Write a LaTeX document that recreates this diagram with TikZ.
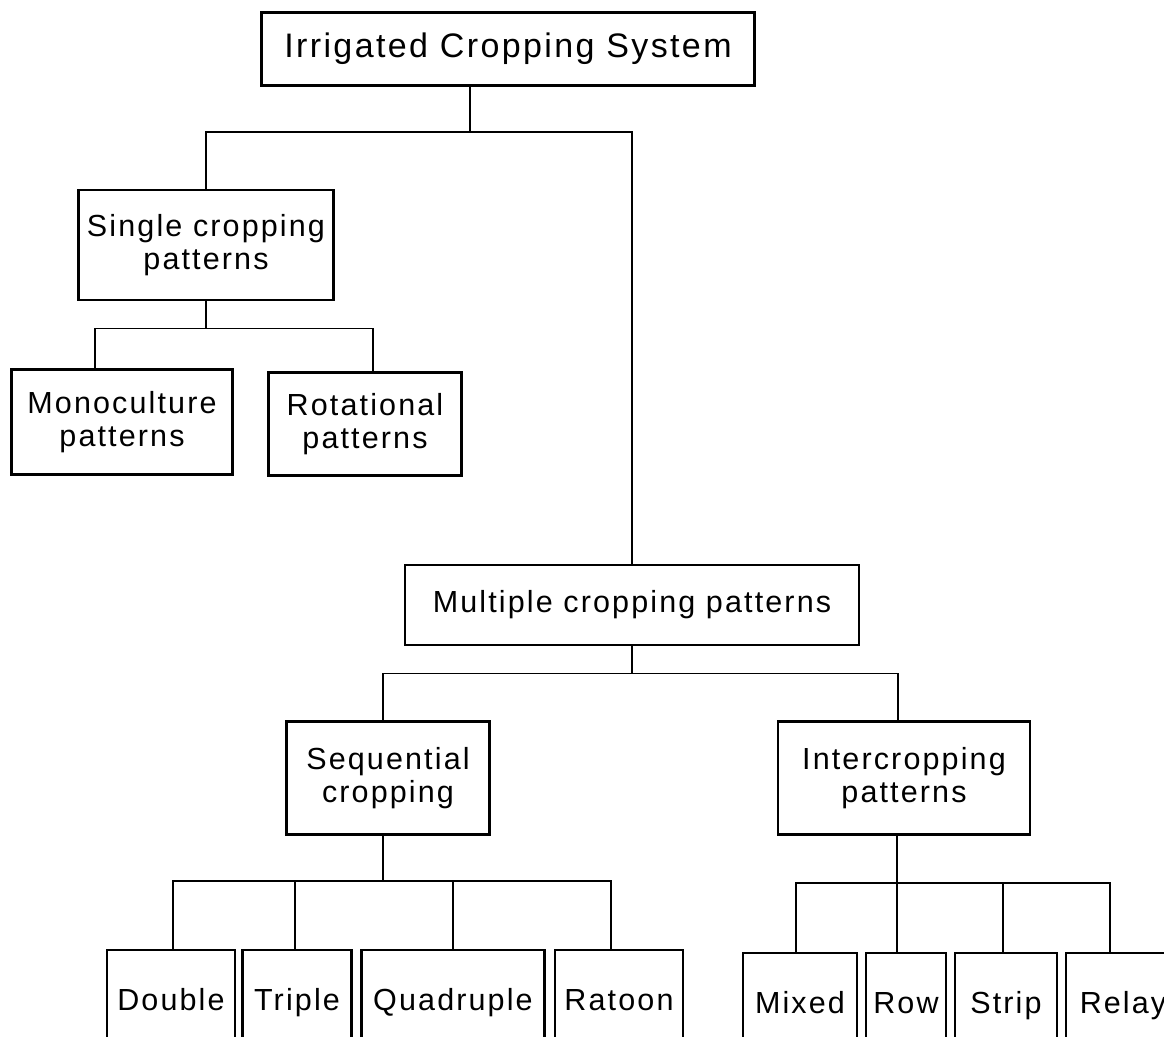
\documentclass[tikz,border=0pt]{standalone}
\usepackage{fontspec}
\setmainfont[LetterSpace=7]{Liberation Sans}

\begin{document}
\begin{tikzpicture}[
    x=1pt, y=-1pt,
    line width=1.5pt,
    box/.style={draw, line width=2.6pt, align=center, inner sep=0pt,
                font=\fontsize{30.5}{33}\selectfont},
    leaf/.style={box, minimum height=104pt, text height=23pt, text depth=7pt},
]
    \useasboundingbox (0,0) rectangle (1164,1036);
    \clip (0,0) rectangle (1164,1036);

    % Draw the upper boxes
    \node[box, minimum width=493pt, minimum height=73pt,
          font=\fontsize{34}{36}\selectfont] (sys) at (508,49) {Irrigated Cropping System};
    \node[box, minimum width=255pt, minimum height=110pt] (single) at (206,245) {Single cropping\\patterns};
    \node[box, minimum width=221pt, minimum height=105pt] (mono) at (122,422) {Monoculture\\patterns};
    \node[box, minimum width=193pt, minimum height=103pt] (rot) at (365,424) {Rotational\\patterns};
    \node[box, minimum width=454pt, minimum height=80pt] (multi) at (632,605) {Multiple cropping patterns};
    \node[box, minimum width=203pt, minimum height=113pt] (seq) at (388,778) {Sequential\\cropping};
    \node[box, minimum width=252pt, minimum height=113pt] (inter) at (904,778) {Intercropping\\patterns};

    % Draw the bottom boxes
    \foreach \name/\x/\w/\txt in {dbl/171/128/Double, tri/297/109/Triple,
                                  quad/453/183/Quadruple, rat/619/128/Ratoon}
        \node[leaf, minimum width=\w pt] (\name) at (\x,1002) {\txt};
    \foreach \name/\x/\w/\txt in {mix/800/114/Mixed, row/906/80/Row,
                                  strip/1006/102/Strip, relay/1123/114/Relay}
        \node[leaf, minimum width=\w pt] (\name) at (\x,1005) {\txt};

    % Connect the system with its two kinds of patterns
    \draw ([xshift=-38pt]sys.south) -- ++(0,45) coordinate (b1);
    \draw (single.north) |- (b1) -| (multi.north);

    % Connect the single cropping patterns
    \draw (single.south) -- ++(0,27) coordinate (b2);
    \draw ([xshift=-27pt]mono.north) |- (b2) -| ([xshift=8pt]rot.north);

    % Connect the multiple cropping patterns
    \draw (multi.south) -- ++(0,27) coordinate (b3);
    \draw ([xshift=-5pt]seq.north) |- (b3) -| ([xshift=-6pt]inter.north);

    % Connect the sequential cropping with its boxes
    \draw ([xshift=-5pt]seq.south) -- ++(0,45) coordinate (b4);
    \foreach \name/\dx in {dbl/2, tri/-2, quad/0, rat/-8}
        \draw ([xshift=\dx pt]\name.north) |- (b4);

    % Connect the intercropping patterns with their boxes
    \draw ([xshift=-7pt]inter.south) -- ++(0,47) coordinate (b5);
    \foreach \name/\dx in {mix/-4, row/-9, strip/-3, relay/-13}
        \draw ([xshift=\dx pt]\name.north) |- (b5);
\end{tikzpicture}
\end{document}
